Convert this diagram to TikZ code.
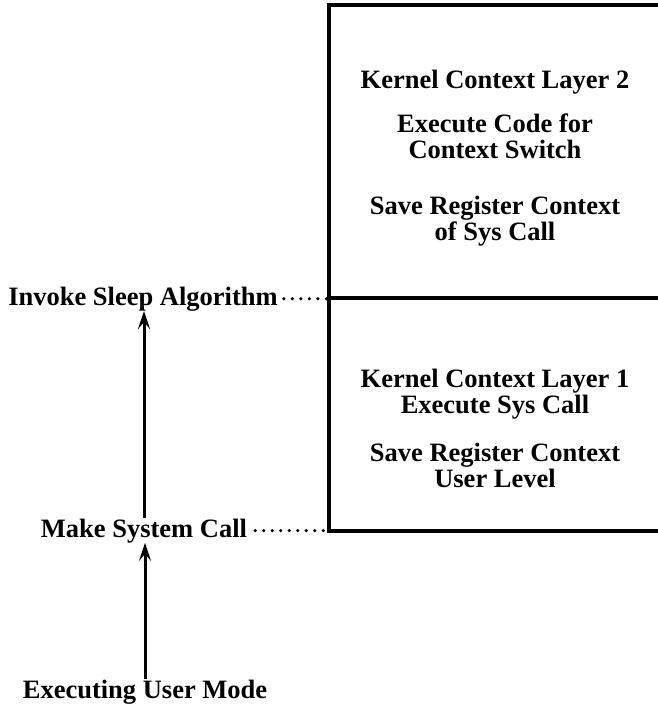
\documentclass[tikz,border=0pt]{standalone}
\usepackage{fontspec}
\setmainfont{Liberation Serif}
\usetikzlibrary{arrows.meta}
\tikzset{
  label/.style={font=\bfseries\fontsize{26.5}{25.5}\selectfont, inner sep=0pt, anchor=base, align=center},
  uparrow/.style={line width=3pt, -{Stealth[length=18pt,width=12pt,inset=7pt]}},
  dotline/.style={line width=3.5pt, line cap=round, dash pattern=on 0pt off 8.5pt},
  boxline/.style={line width=3.2pt}
}
\begin{document}
\begin{tikzpicture}[x=1pt,y=-1pt]
\useasboundingbox (0,0) rectangle (658,713);
% box of the kernel layers
\coordinate (topleft) at (329,5);
\coordinate (midleft) at (329,298);
\coordinate (botleft) at (329,531);
\draw[boxline] (670,5) -- (topleft) -- (botleft) -- (670,531);
\draw[boxline] (midleft) -- (670,298);
% texts in the box
\node[label] (layertwo) at (495,88) {Kernel Context Layer 2};
\node[label] (switchcode) at (495,158) {Execute Code for\\ Context Switch};
\node[label] (savesys) at (495,240) {Save Register Context\\of Sys Call};
\node[label] (layerone) at (495,413) {Kernel Context Layer 1\\Execute Sys Call};
\node[label] (saveuser) at (495,487) {Save Register Context\\User Level};
% steps on the left
\node[label] (sleep) at (143,305) {Invoke Sleep Algorithm};
\node[label] (syscall) at (144,537) {Make System Call};
\node[label] (usermode) at (145,698) {Executing User Mode};
\draw[uparrow] (usermode.north) -- (usermode.north |- syscall.south);
\draw[uparrow] (syscall.north) -- (syscall.north |- sleep.south);
\draw[dotline] ([xshift=6pt]sleep.east) -- (sleep.east -| midleft);
\draw[dotline] ([xshift=8pt]syscall.east) -- (syscall.east -| botleft);
\end{tikzpicture}
\end{document}
